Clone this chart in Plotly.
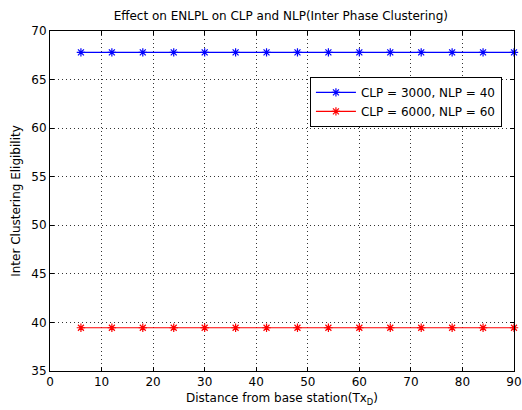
import plotly.graph_objects as go

distance = [6, 12, 18, 24, 30, 36, 42, 48, 54, 60, 66, 72, 78, 84, 90]
clp3000_nlp40 = [67.8] * 15
clp6000_nlp60 = [39.45] * 15
series_names = ["CLP = 3000, NLP = 40", "CLP = 6000, NLP = 60"]
x_ticks = [0, 10, 20, 30, 40, 50, 60, 70, 80, 90]
y_ticks = [35, 40, 45, 50, 55, 60, 65, 70]

FONT = "DejaVu Sans, Verdana, sans-serif"

fig = go.Figure()
fig.add_trace(go.Scatter(x=distance, y=clp3000_nlp40, mode="lines+markers", name=series_names[0],
                         line=dict(color="#0000ff", width=1.2),
                         marker=dict(symbol="asterisk-open", size=7, color="#0000ff",
                                     line=dict(color="#0000ff", width=1.2)),
                         cliponaxis=False))
fig.add_trace(go.Scatter(x=distance, y=clp6000_nlp60, mode="lines+markers", name=series_names[1],
                         line=dict(color="#ff0000", width=1.2),
                         marker=dict(symbol="asterisk-open", size=7, color="#ff0000",
                                     line=dict(color="#ff0000", width=1.2)),
                         cliponaxis=False))

axis_common = dict(showline=True, linecolor="black", linewidth=1, mirror="allticks",
                   ticks="inside", ticklen=4, tickcolor="black",
                   showgrid=True, gridcolor="#333333", griddash="1px,3px", gridwidth=1,
                   zeroline=False, automargin=False,
                   tickfont=dict(family=FONT, size=12, color="black"))

fig.update_layout(
    width=522, height=410,
    margin=dict(l=50, r=8, t=31, b=39),
    paper_bgcolor="white", plot_bgcolor="white",
    font=dict(family=FONT, size=12, color="black"),
    title=dict(text="Effect on ENLPL on CLP and NLP(Inter Phase Clustering)", x=0.538, xanchor="center",
               y=0.962, yanchor="middle", font=dict(size=12)),
    xaxis=dict(range=[0, 90], tickvals=x_ticks,
               title=dict(text="Distance from base station(Tx<sub>D</sub>)", standoff=5, font=dict(size=12)),
               **axis_common),
    yaxis=dict(range=[35, 70], tickvals=y_ticks,
               title=dict(text="Inter Clustering Eligibility", standoff=8, font=dict(size=12)),
               **axis_common),
    legend=dict(x=0.974, y=0.865, xanchor="right", yanchor="top", bgcolor="white",
                bordercolor="black", borderwidth=1, font=dict(size=12),
                tracegroupgap=0, itemwidth=40),
    showlegend=True,
)

fig.write_html("out.html")
